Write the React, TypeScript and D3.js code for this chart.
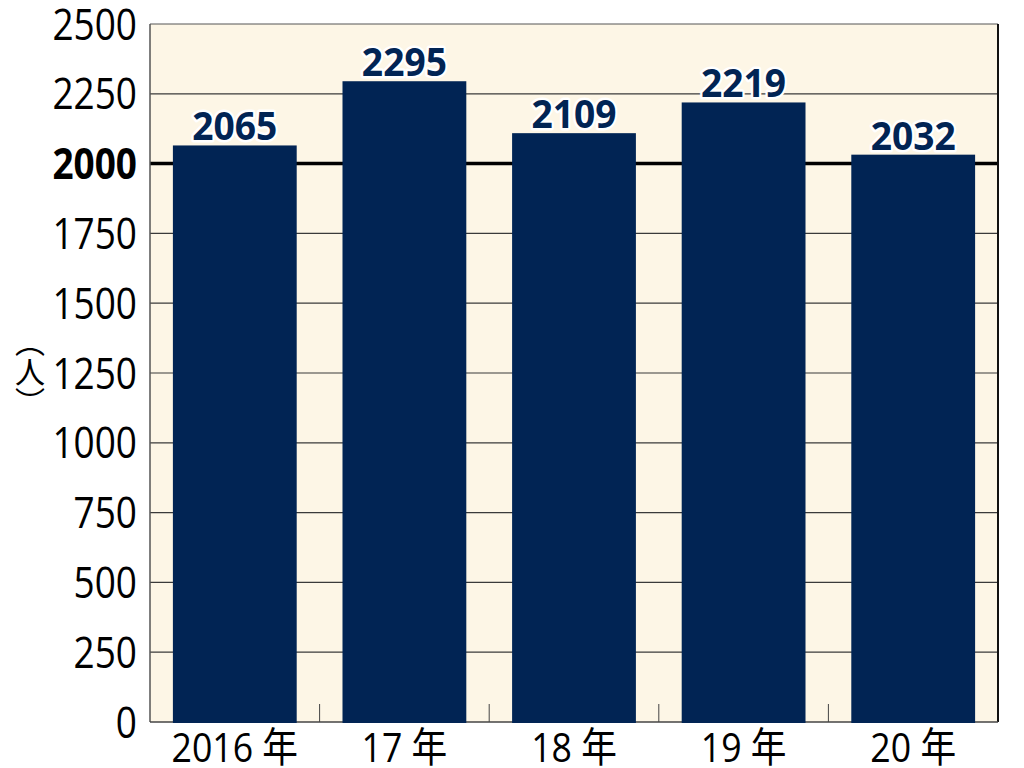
import * as d3 from 'd3';

const categories = ['2016 年', '17 年', '18 年', '19 年', '20 年'];
const values = [2065, 2295, 2109, 2219, 2032];
const yTicks = [0, 250, 500, 750, 1000, 1250, 1500, 1750, 2000, 2250, 2500];

const NAVY = '#012454';
const CREAM = '#fdf6e6';
const FONT = '"Open Sans", "Noto Sans CJK JP", sans-serif';

export default function App() {
  const width = 1024;
  const height = 768;
  const plot = { left: 150, right: 998, top: 24, bottom: 722 };

  const x = d3.scaleBand<string>()
    .domain(categories)
    .range([plot.left, plot.right])
    .paddingInner(0.27)
    .paddingOuter(0.135);

  const y = d3.scaleLinear()
    .domain([0, 2500])
    .range([plot.bottom, plot.top]);

  const step = x.step();

  return (
    <svg
      width={width}
      height={height}
      style={{ position: 'absolute', left: 0, top: 0, background: '#fff' }}
    >
      {/* 背景 */}
      <rect
        x={plot.left}
        y={plot.top}
        width={plot.right - plot.left}
        height={plot.bottom - plot.top}
        fill={CREAM}
      />

      {/* 网格线 */}
      {yTicks.filter(t => t > 0 && t < 2500).map(t => (
        <line
          key={t}
          x1={plot.left}
          x2={plot.right}
          y1={y(t)}
          y2={y(t)}
          stroke={t === 2000 ? '#000' : '#3a3a3a'}
          strokeWidth={t === 2000 ? 3.5 : 1.2}
        />
      ))}

      {/* 边框 */}
      <line x1={plot.left} x2={plot.right} y1={plot.top} y2={plot.top} stroke="#555" strokeWidth={1} />
      <line x1={plot.left} x2={plot.left} y1={plot.top} y2={plot.bottom} stroke="#555" strokeWidth={1.5} />
      <line x1={plot.right} x2={plot.right} y1={plot.top} y2={plot.bottom} stroke="#111" strokeWidth={2} />
      <line x1={plot.left} x2={plot.right} y1={plot.bottom} y2={plot.bottom} stroke="#444" strokeWidth={1.5} />

      {/* 刻度 */}
      {categories.slice(1).map((_, i) => {
        const tx = plot.left + step * (i + 1);
        return (
          <line key={i} x1={tx} x2={tx} y1={plot.bottom - 18} y2={plot.bottom} stroke="#444" strokeWidth={1} />
        );
      })}

      {/* 柱子 */}
      {categories.map((c, i) => (
        <rect
          key={c}
          x={x(c)}
          y={y(values[i])}
          width={x.bandwidth()}
          height={plot.bottom + 1 - y(values[i])}
          fill={NAVY}
        />
      ))}

      {/* 数值标签 */}
      {categories.map((c, i) => (
        <text
          key={c}
          transform={`translate(${(x(c) as number) + x.bandwidth() / 2},${y(values[i]) - 5}) scale(0.93,1)`}
          textAnchor="middle"
          fontFamily={FONT}
          fontWeight={700}
          fontSize={40}
          fill={NAVY}
          stroke="#fff"
          strokeWidth={5}
          strokeLinejoin="round"
          paintOrder="stroke"
        >
          {values[i]}
        </text>
      ))}

      {/* Y 轴标签 */}
      {yTicks.map(t => (
        <text
          key={t}
          transform={`translate(137,${y(t) + 15.5}) scale(0.86,1)`}
          textAnchor="end"
          fontFamily={FONT}
          fontWeight={t === 2000 ? 700 : 400}
          fontSize={43}
          fill="#000"
        >
          {t}
        </text>
      ))}

      {/* X 轴标签 */}
      {categories.map(c => (
        <text
          key={c}
          transform={`translate(${(x(c) as number) + x.bandwidth() / 2},762) scale(0.87,1)`}
          textAnchor="middle"
          fontFamily={FONT}
          fontSize={41}
          fill="#000"
        >
          {c}
        </text>
      ))}

      {/* 单位 */}
      <text
        x={30}
        y={372}
        textAnchor="middle"
        fontFamily='"Noto Sans CJK JP", sans-serif'
        fontSize={30}
        fill="#000"
        style={{ writingMode: 'vertical-rl' }}
      >
        （人）
      </text>
    </svg>
  );
}
